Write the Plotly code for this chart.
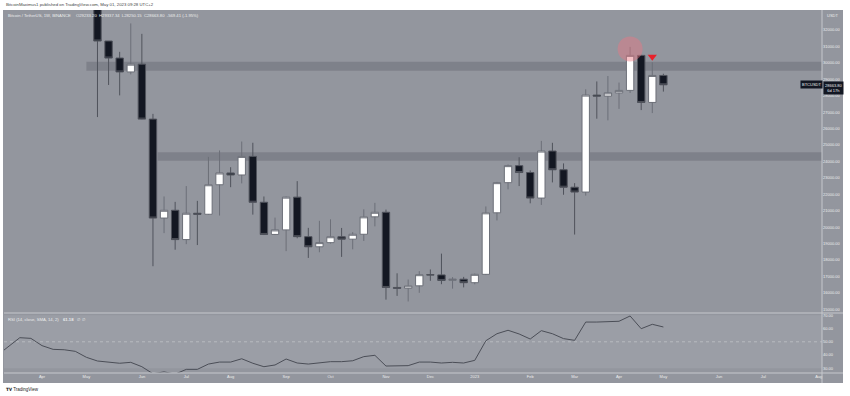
import pandas as pd
import plotly.graph_objects as go

# ---------------- data ----------------
week_start = pd.date_range("2022-05-09", periods=52, freq="7D")
open_ = [34060, 31328, 30293, 29446, 29920, 26575, 20553, 21028, 19243, 20846,
         20785, 22580, 23297, 23175, 24305, 21515, 19555, 19832, 21826, 19420,
         18803, 19057, 19416, 19268, 19567, 20627, 20905, 16330, 16280, 16428,
         17105, 17092, 16757, 16832, 16618, 17127, 20872, 22707, 23743, 23324,
         21770, 24631, 23492, 22430, 22136, 28038, 27977, 28171, 28323, 30454,
         27590, 29233.20]
high = [34244, 31328, 30670, 32400, 31765, 26895, 21868, 21539, 22500, 21600,
        24276, 24668, 23648, 25211, 25136, 21867, 20580, 21860, 22800, 19956,
        20385, 20475, 19951, 19697, 21085, 21478, 21069, 17190, 16812, 17320,
        17424, 18387, 16958, 16972, 17176, 21259, 22755, 23816, 24255, 23452,
        25250, 25134, 23880, 22680, 28390, 28868, 29200, 28800, 30970, 30484,
        30036, 29337.34]
low = [26700, 28654, 28019, 29299, 26560, 17622, 19637, 18626, 18966, 18910,
       20750, 20706, 22432, 22664, 20761, 19520, 19520, 18540, 19320, 18125,
       18471, 19000, 18190, 18650, 19160, 20048, 15588, 15815, 15476, 16003,
       16733, 16527, 16256, 16333, 16521, 17081, 20407, 22300, 22500, 21451,
       21350, 22722, 21971, 19549, 21918, 26601, 26500, 27200, 28171, 27125,
       26942, 28250.15]
close = [31328, 30293, 29446, 29920, 26575, 20553, 21028, 19243, 20846, 20785,
         22580, 23297, 23175, 24305, 21515, 19555, 19832, 21826, 19420, 18803,
         19057, 19416, 19268, 19567, 20627, 20905, 16330, 16280, 16428, 17105,
         17092, 16757, 16832, 16618, 17127, 20872, 22707, 23743, 23324, 21770,
         24631, 23492, 22430, 22136, 28038, 27977, 28171, 28323, 30454, 27590,
         29233.21, 28663.80]

rsi_start = pd.date_range("2022-03-07", periods=61, freq="7D")
rsi = [40.0, 46.5, 53.1, 52.6, 47.1, 44.3, 44.0, 42.8, 38.3, 35.5,
       34.5, 33.8, 34.5, 31.2, 25.9, 27.3, 25.6, 29.2, 29.2, 33.2,
       34.7, 34.7, 37.2, 33.8, 31.2, 32.5, 37.0, 34.0, 33.2, 34.0,
       35.0, 35.0, 35.7, 38.8, 39.8, 31.7, 31.7, 32.0, 34.7, 34.7,
       34.0, 34.5, 34.0, 36.0, 50.8, 56.1, 58.7, 55.9, 52.1, 58.4,
       56.1, 52.4, 51.1, 64.9, 64.9, 65.2, 65.5, 69.5, 59.9, 63.2, 61.18]

month_ticks = ["2022-04-04", "2022-05-02", "2022-06-06", "2022-07-04", "2022-08-01",
               "2022-09-05", "2022-10-03", "2022-11-07", "2022-12-05", "2023-01-02",
               "2023-02-06", "2023-03-06", "2023-04-03", "2023-05-01", "2023-06-05",
               "2023-07-03", "2023-08-07"]
month_labels = ["Apr", "May", "Jun", "Jul", "Aug", "Sep", "Oct", "Nov", "Dec", "2023",
                "Feb", "Mar", "Apr", "May", "Jun", "Jul", "Aug"]
price_ticks = list(range(15000, 33000, 1000))
rsi_ticks = [30, 40, 50, 60, 70]

zones = [("2022-05-02", 29523, 30070), ("2022-06-16", 24044, 24556)]

# ---------------- geometry helpers ----------------
W, H = 850, 396
L, R, T, B = 4, 28, 10, 23
PW, PH = W - L - R, H - T - B
def px(x): return (x - L) / PW
def py(y): return (H - B - y) / PH

x_range = [pd.Timestamp("2022-03-11 00:40"), pd.Timestamp("2023-08-09 01:30")]
y_range = [14774, 33217]
rsi_range = [26.45, 71.74]
split = 60 / PH
price_per_px = (y_range[1] - y_range[0]) / (PH - 60)
day_per_px = (x_range[1] - x_range[0]) / pd.Timedelta(days=1) / PW

BG = "#93969e"
BAND = "#9b9ea6"
SEP = "#c6c8cd"
TXT = "#eceded"
FONT = "Liberation Sans"

fig = go.Figure()
fig.add_trace(go.Candlestick(
    x=week_start, open=open_, high=high, low=low, close=close,
    increasing=dict(line=dict(color="#6c6f78", width=1), fillcolor="#ffffff"),
    decreasing=dict(line=dict(color="#50535c", width=1), fillcolor="#131722"),
    whiskerwidth=0, xaxis="x", yaxis="y", hoverinfo="skip"))

fig.add_trace(go.Scatter(x=rsi_start, y=rsi, mode="lines",
                         line=dict(color="#4b4e57", width=1),
                         xaxis="x", yaxis="y2", hoverinfo="skip"))

# red marker above the Apr 24 candle
i_tri = 50
fig.add_trace(go.Scatter(x=[week_start[i_tri]], y=[high[i_tri] + 5.6 * price_per_px],
                         mode="markers", marker=dict(symbol="triangle-down", size=8,
                                                     color="#e8202a"),
                         xaxis="x", yaxis="y", hoverinfo="skip"))

shapes = []
# gray panel parts outside plot area
shapes.append(dict(type="rect", xref="paper", yref="paper", x0=px(822), x1=px(843),
                   y0=py(383), y1=1, fillcolor=BG, line_width=0, layer="below"))
shapes.append(dict(type="rect", xref="paper", yref="paper", x0=px(3), x1=px(822),
                   y0=py(383), y1=0, fillcolor=BG, line_width=0, layer="below"))
shapes.append(dict(type="rect", xref="paper", yref="paper", x0=px(3), x1=0,
                   y0=py(383), y1=1, fillcolor=BG, line_width=0, layer="below"))
# RSI band
shapes.append(dict(type="rect", xref="paper", yref="y2", x0=0, x1=1, y0=30, y1=70,
                   fillcolor=BAND, line_width=0, layer="below"))
shapes.append(dict(type="line", xref="paper", yref="y2", x0=0, x1=1, y0=50, y1=50,
                   line=dict(color="#bfc1c6", width=0.8, dash="dot"), layer="below"))
# zones
for start, lo, hi in zones:
    shapes.append(dict(type="rect", xref="x", yref="y", x0=start, x1=x_range[1],
                       y0=lo, y1=hi, fillcolor="rgba(80,83,92,0.30)", line_width=0,
                       layer="below"))
# separators
shapes.append(dict(type="line", xref="paper", yref="paper", x0=0, x1=px(843),
                   y0=split, y1=split, line=dict(color=SEP, width=1)))
shapes.append(dict(type="line", xref="paper", yref="paper", x0=0, x1=px(843),
                   y0=0, y1=0, line=dict(color=SEP, width=1)))
shapes.append(dict(type="line", xref="paper", yref="paper", x0=1, x1=1,
                   y0=py(383), y1=1, line=dict(color=SEP, width=1)))
# circle on Apr 10 high
i_c = 48
cx = week_start[i_c]
cy = high[i_c] - 2 * price_per_px
r_px = 12.5
shapes.append(dict(type="circle", xref="x", yref="y",
                   x0=cx - pd.Timedelta(days=r_px * day_per_px),
                   x1=cx + pd.Timedelta(days=r_px * day_per_px),
                   y0=cy - r_px * price_per_px, y1=cy + r_px * price_per_px,
                   fillcolor="rgba(235,120,130,0.45)", line_width=0))

chg = close[-1] - close[-2]
pct = chg / close[-2] * 100
ohlc = (f"O{open_[-1]:.2f}  H{high[-1]:.2f}  L{low[-1]:.2f}  C{close[-1]:.2f}  "
        f"{chg:.2f} ({pct:.2f}%)")

def ann(text, x, y, size=4, color=TXT, xanchor="left", **kw):
    d = dict(text=text, x=px(x), y=py(y), xref="paper", yref="paper",
             xanchor=xanchor, yanchor="middle", showarrow=False,
             font=dict(family=FONT, size=size, color=color))
    d.update(kw)
    return d

annotations = [
    ann("BitcoinMaximus1 published on TradingView.com, May 01, 2023 09:28 UTC+2", 4, 5,
        size=4.3, color="#444444"),
    ann("Bitcoin / TetherUS, 1W, BINANCE", 6, 15, size=4.2),
    ann(ohlc, 74, 15, size=4.2),
    ann("RSI (14, close, SMA, 14, 2)", 6, 319, size=4.2),
    ann(f"<b>{rsi[-1]:.2f}</b>", 61, 319, size=4.2),
    ann("∅  ∅", 75, 319, size=4.2),
    ann("USDT", 825, 15, size=4),
    ann("BTCUSDT", 811, 85, size=4, xanchor="center", bgcolor="#131722", borderpad=1),
    ann(f"{close[-1]:.2f}<br>6d 17h", 833, 88, size=4, xanchor="center",
        bgcolor="#131722", borderpad=1),
    ann("<b>𝐓𝐕</b> TradingView", 4, 390, size=4.5, color="#222222"),
]

fig.update_layout(
    width=W, height=H, margin=dict(l=L, r=R, t=T, b=B),
    paper_bgcolor="white", plot_bgcolor=BG, showlegend=False,
    boxgap=0.2, boxgroupgap=0.17,
    font=dict(family=FONT, size=4, color=TXT),
    shapes=shapes, annotations=annotations,
    xaxis=dict(type="date", range=x_range, anchor="y2", domain=[0, 1],
               tickvals=month_ticks, ticktext=month_labels, ticks="",
               showgrid=False, zeroline=False, showline=False,
               tickfont=dict(family=FONT, size=4, color=TXT),
               rangeslider=dict(visible=False), fixedrange=True),
    yaxis=dict(domain=[split, 1], range=y_range, side="right", anchor="x",
               tickvals=price_ticks, ticktext=[f"{v}.00" for v in price_ticks],
               ticks="", showgrid=False, zeroline=False, showline=False,
               tickfont=dict(family=FONT, size=4, color=TXT)),
    yaxis2=dict(domain=[0, split], range=rsi_range, side="right", anchor="x",
                tickvals=rsi_ticks, ticktext=[f"{v}.00" for v in rsi_ticks],
                ticks="", showgrid=False, zeroline=False, showline=False,
                tickfont=dict(family=FONT, size=4, color=TXT)),
)

fig.write_html("out.html", config={"displayModeBar": False},
               post_script="document.body.style.margin='0';document.body.style.padding='0';")
